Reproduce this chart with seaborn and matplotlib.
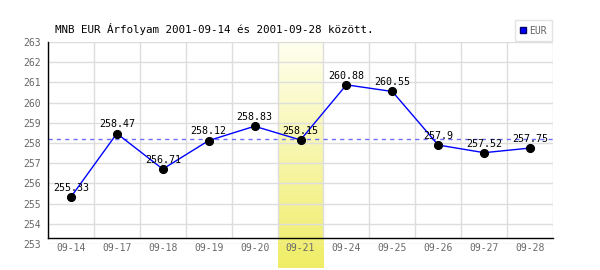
import numpy as np
import pandas as pd
import matplotlib
matplotlib.use("Agg")
import matplotlib.pyplot as plt
import matplotlib.transforms as mtransforms
from matplotlib.lines import Line2D
from matplotlib.colors import LinearSegmentedColormap
import seaborn as sns

dates = ["09-14", "09-17", "09-18", "09-19", "09-20", "09-21",
         "09-24", "09-25", "09-26", "09-27", "09-28"]
values = [255.33, 258.47, 256.71, 258.12, 258.83, 258.15,
          260.88, 260.55, 257.9, 257.52, 257.75]
labels = ["255.33", "258.47", "256.71", "258.12", "258.83", "258.15",
          "260.88", "260.55", "257.9", "257.52", "257.75"]
highlight = "09-21"
title = "MNB EUR Árfolyam 2001-09-14 és 2001-09-28 között."
series_name = "EUR"
yticks = list(range(253, 264))

sns.set_theme(style="white")
plt.rcParams['font.family'] = ['DejaVu Sans Mono', 'DejaVu Sans']

df = pd.DataFrame({"date": dates, "value": values})
df["pos"] = np.arange(len(dates))

fig = plt.figure(figsize=(6, 2.7), dpi=100)
ax = fig.add_axes([48/600, 1-244/270, (553-48)/600, (244-42)/270])

# highlight band with vertical gradient
hi = dates.index(highlight)
cmap = LinearSegmentedColormap.from_list("band", [(1.0, 1.0, 0.94), (0.94, 0.93, 0.40)])
grad = np.linspace(0, 1, 256).reshape(-1, 1)
trans = mtransforms.blended_transform_factory(ax.transData, ax.transAxes)
ax.imshow(grad, cmap=cmap, aspect="auto", transform=trans,
          extent=(hi - 0.5, hi + 0.5, -0.12, 1.0), origin="upper",
          clip_on=False, zorder=0)

# grid
for y in yticks:
    ax.axhline(y, color="#dddddd", lw=1, zorder=1)
for k in range(len(dates) + 1):
    ax.axvline(k - 0.5, ymin=0.03, ymax=1, color="#dddddd", lw=1, zorder=1)

# mean line
ax.axhline(np.mean(values), color="#6f6fff", lw=1.0, ls=(0, (3, 3)), zorder=2)

sns.lineplot(data=df, x="pos", y="value", ax=ax, color="#0000ff", lw=1,
             marker="o", markersize=5.8, markerfacecolor="black",
             markeredgecolor="black", zorder=3, legend=False)

for p, v, t in zip(df["pos"], values, labels):
    ax.annotate(t, (p, v), xytext=(0, 3), textcoords="offset points",
                ha="center", va="bottom", fontsize=7.2, color="black", zorder=4)

ax.set_xlim(-0.5, len(dates) - 0.5)
ax.set_ylim(yticks[0], yticks[-1])
ax.set_xticks(df["pos"])
ax.set_xticklabels(dates)
ax.set_yticks(yticks)
ax.set_xlabel("")
ax.set_ylabel("")
ax.tick_params(axis="both", length=0, labelsize=7, labelcolor="#666666")
ax.tick_params(axis="y", pad=5)
ax.tick_params(axis="x", pad=4)

for s in ["top", "right"]:
    ax.spines[s].set_visible(False)
ax.spines["bottom"].set_position(("axes", 0.03))
ax.spines["bottom"].set_color("black")
ax.spines["bottom"].set_linewidth(1)
ax.spines["left"].set_color("black")
ax.spines["left"].set_linewidth(1)
ax.spines["left"].set_bounds(yticks[0] + 0.3, yticks[-1])

fig.text(55/600, 1-29/270, title, fontsize=7.8, color="black", va="center", ha="left")

handle = Line2D([], [], marker="s", color="#0000ff", markeredgecolor="#000066",
                linestyle="none", markersize=5)
leg = ax.legend([handle], [series_name], loc="lower right", bbox_to_anchor=(1.0, 1.0),
                fontsize=7, frameon=True, fancybox=False, borderaxespad=0.1,
                handlelength=0.6, handletextpad=0.3, borderpad=0.55)
leg.get_frame().set_edgecolor("#dddddd")
leg.get_frame().set_linewidth(1)
for txt in leg.get_texts():
    txt.set_color("#666666")

fig.savefig("out.png", dpi=100)
